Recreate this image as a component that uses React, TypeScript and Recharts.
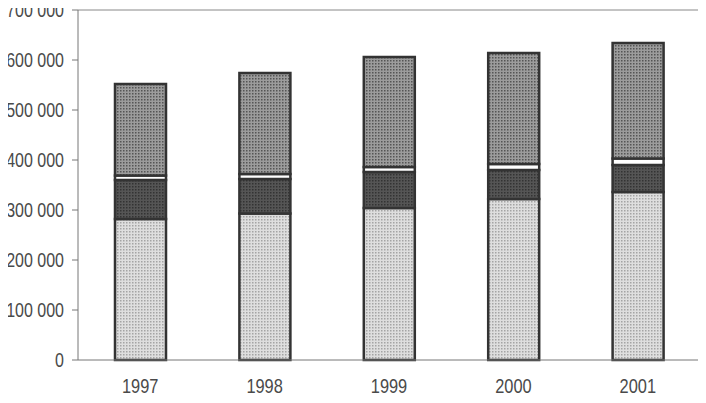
import { BarChart, Bar, XAxis, YAxis, ReferenceLine } from "recharts";

const years = ["1997", "1998", "1999", "2000", "2001"];
const baseValues = [282000, 293000, 304000, 322000, 336000];
const darkValues = [78000, 69000, 72000, 58000, 54000];
const whiteValues = [9000, 10000, 10000, 12000, 13000];
const topValues = [183000, 202000, 220000, 222000, 231000];
const yTicks = [0, 100000, 200000, 300000, 400000, 500000, 600000, 700000];
const boundaryTicks = [1, 2, 3, 4];

const data = years.map((year, i) => ({
  year,
  base: baseValues[i],
  dark: darkValues[i],
  white: whiteValues[i],
  top: topValues[i],
}));

const font = "'Liberation Sans', Arial, sans-serif";
const textColor = "#4a4a4a";

const fmt = (v: number) => String(v).replace(/\B(?=(\d{3})+(?!\d))/g, " ");

// narrow-looking labels: squeeze a regular sans horizontally
function YTick(props: any) {
  const { x, y, payload } = props;
  return (
    <text
      transform={`translate(${x},${y}) scale(0.8,1)`}
      textAnchor="end"
      dy="0.36em"
      fill={textColor}
      fontSize={20}
      fontFamily={font}
    >
      {fmt(payload.value)}
    </text>
  );
}

function XTick(props: any) {
  const { x, y, payload } = props;
  return (
    <text
      transform={`translate(${x},${y}) scale(0.8,1)`}
      textAnchor="middle"
      dy="0.71em"
      fill={textColor}
      fontSize={20.5}
      fontFamily={font}
    >
      {payload.value}
    </text>
  );
}

export default function App() {
  return (
    <div style={{ margin: "-8px 0 0 -8px" }}>
      <BarChart
        width={706}
        height={403}
        data={data}
        margin={{ top: 10, right: 6, left: 0, bottom: 0 }}
      >
        <defs>
          <pattern id="pBase" width="3" height="3" patternUnits="userSpaceOnUse">
            <rect width="3" height="3" fill="#dedede" />
            <rect width="1.5" height="1.5" fill="#a4a4a4" />
          </pattern>
          <pattern id="pDark" width="3" height="3" patternUnits="userSpaceOnUse">
            <rect width="3" height="3" fill="#555" />
            <rect width="1.5" height="1.5" fill="#333" />
          </pattern>
          <pattern id="pTop" width="3" height="3" patternUnits="userSpaceOnUse">
            <rect width="3" height="3" fill="#9c9c9c" />
            <rect width="1.5" height="1.5" fill="#555" />
          </pattern>
        </defs>
        <XAxis
          xAxisId="grid"
          type="number"
          domain={[0, 5]}
          ticks={boundaryTicks}
          tick={false}
          height={0}
          axisLine={false}
          tickLine={{ stroke: "#777" }}
          tickSize={7}
        />
        <XAxis
          dataKey="year"
          height={43}
          axisLine={{ stroke: "#777" }}
          tickLine={false}
          tickSize={0}
          tickMargin={18}
          tick={<XTick />}
        />
        <YAxis
          width={78}
          domain={[0, 700000]}
          ticks={yTicks}
          axisLine={{ stroke: "#777" }}
          tickLine={{ stroke: "#777" }}
          tickSize={6}
          tickMargin={8}
          tick={<YTick />}
        />
        <YAxis
          yAxisId="r"
          orientation="right"
          width={0}
          domain={[0, 700000]}
          tick={false}
          tickLine={false}
          axisLine={{ stroke: "#888" }}
        />
        <ReferenceLine y={700000} stroke="#888" />
        <Bar dataKey="base" stackId="a" barSize={51} fill="url(#pBase)" stroke="#333" strokeWidth={2.5} isAnimationActive={false} />
        <Bar dataKey="dark" stackId="a" barSize={51} fill="url(#pDark)" stroke="#333" strokeWidth={2.5} isAnimationActive={false} />
        <Bar dataKey="white" stackId="a" barSize={51} fill="#ffffff" stroke="#333" strokeWidth={2.5} isAnimationActive={false} />
        <Bar dataKey="top" stackId="a" barSize={51} fill="url(#pTop)" stroke="#333" strokeWidth={2.5} isAnimationActive={false} />
      </BarChart>
    </div>
  );
}
